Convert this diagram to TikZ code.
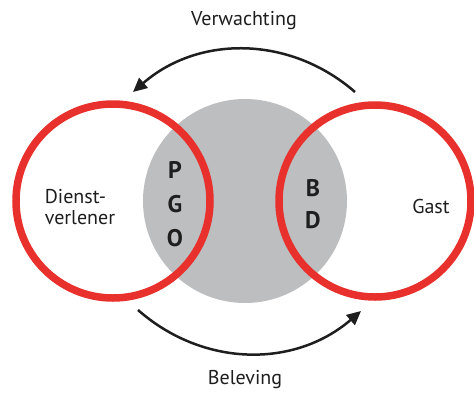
\documentclass[tikz,border=0pt]{standalone}
\usepackage{fontspec}
\setmainfont{PT Sans}
\usetikzlibrary{arrows.meta}
\definecolor{ringred}{HTML}{E8302C}
\definecolor{midgray}{HTML}{BDBEC0}
\definecolor{ink}{HTML}{1E1E1E}
\tikzset{
  ring/.style={draw=ringred, line width=7.5pt},
  core/.style={fill=midgray, draw=none},
  lbl/.style={text=ink, font=\fontsize{20}{21}\selectfont, inner sep=0pt},
  letter/.style={text=ink, font=\bfseries\fontsize{24}{26}\selectfont, inner sep=0pt},
  flow/.style={draw=ink, line width=2.5pt, -{Triangle[length=14pt,width=13pt]}}
}
\begin{document}
\begin{tikzpicture}[x=1pt,y=-1pt]
\useasboundingbox (0,0) rectangle (474,392);
\fill[white] (0,0) rectangle (474,392);
\node[core, circle, minimum size=204pt] (mid) at (245,201) {};
\node[ring, circle, minimum size=194pt, inner sep=0pt] (left) at (113,201) {};
\node[ring, circle, minimum size=192pt, inner sep=0pt] (right) at (375,201) {};
\node[lbl] (top) at (244,21) {Verwachting};
\node[lbl] (bot) at (245,380) {Beleving};
\node[lbl, align=left] (dv) at (80,207) {Dienst-\\verlener};
\node[lbl] (gast) at (431,206) {Gast};
\node[letter] (p) at (175,170) {P};
\node[letter] (g) at (175,204) {G};
\node[letter] (o) at (175,238) {O};
\node[letter] (b) at (313,188) {B};
\node[letter] (d) at (313,220) {D};
\coordinate (ts) at (355,92);
\coordinate (te) at (133,92);
\coordinate (bs) at (138,310);
\coordinate (be) at (361,311);
\draw[flow] (ts) to[bend right=41] (te);
\draw[flow] (bs) to[bend right=41] (be);
\end{tikzpicture}
\end{document}
